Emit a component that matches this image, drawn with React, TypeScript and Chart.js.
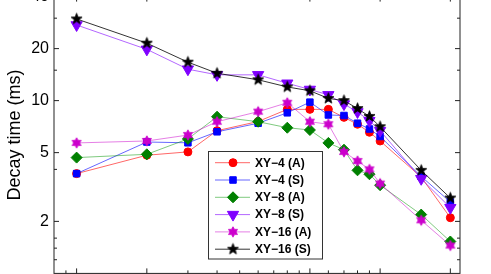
import React, { useEffect, useRef } from "react";
import { Chart, registerables } from "chart.js";
import { drawPoint } from "chart.js/helpers";

Chart.register(...registerables);

// ---- data ----
const xValues = [1, 2, 3, 4, 6, 8, 10, 12, 14, 16, 18, 20, 30, 40];
const xy4A = [3.78, 4.83, 5.05, 6.7, 7.57, 8.9, 8.9, 8.9, 8.0, 7.3, 6.56, 5.84, 3.61, 2.1];
const xy4S = [3.78, 5.76, 5.7, 6.6, 7.4, 8.5, 9.8, 8.26, 8.2, 7.4, 6.85, 6.2, 3.64, 2.59];
const xy8A = [4.68, 4.89, 6.0, 8.07, 7.55, 6.97, 6.76, 5.69, 5.2, 3.95, 3.75, 3.24, 2.19, 1.53];
const xy8S = [27.4, 19.8, 15.2, 14.1, 14.1, 12.6, 11.6, 10.8, 9.55, 8.6, 7.65, 6.7, 3.53, 2.4];
const xy16A = [5.69, 5.84, 6.32, 7.55, 8.63, 9.72, 7.55, 7.3, 5.05, 4.47, 4.0, 3.31, 2.03, 1.45];
const xy16S = [29.7, 21.5, 16.7, 14.4, 13.2, 12.0, 11.4, 10.3, 10.0, 9.0, 8.1, 7.06, 3.95, 2.73];

const seriesLabels = ["XY−4 (A)", "XY−4 (S)", "XY−8 (A)", "XY−8 (S)", "XY−16 (A)", "XY−16 (S)"];

const yTickLabels = [2, 5, 10, 20, 40];
const yMinorTicks = [1.2, 1.4, 1.6, 4, 15, 30];
const xMajorTicks = [1, 2, 10, 20, 40];
const xMinorTicks = [0.9, 3, 4, 5, 6, 7, 8, 9, 12, 14, 16, 18];

const FONT = '"Liberation Sans", Arial, Helvetica, sans-serif';

function makeStar(points: number, outer: number, inner: number, fill: string) {
  const size = Math.ceil(outer * 2 + 3);
  const c = document.createElement("canvas");
  c.width = size;
  c.height = size;
  const ctx = c.getContext("2d")!;
  const cx = size / 2,
    cy = size / 2;
  ctx.beginPath();
  for (let i = 0; i < points * 2; i++) {
    const r = i % 2 === 0 ? outer : inner;
    const a = -Math.PI / 2 + (i * Math.PI) / points;
    const px = cx + r * Math.cos(a),
      py = cy + r * Math.sin(a);
    if (i === 0) ctx.moveTo(px, py);
    else ctx.lineTo(px, py);
  }
  ctx.closePath();
  ctx.fillStyle = fill;
  ctx.fill();
  ctx.strokeStyle = fill;
  ctx.lineWidth = 0.8;
  ctx.stroke();
  return c;
}

const framePlugin = {
  id: "matlabFrame",
  beforeDatasetsDraw(chart: any) {
    const { ctx, chartArea } = chart;
    const { left, right, top, bottom } = chartArea;
    const xs = chart.scales.x;
    const ys = chart.scales.y;
    ctx.save();
    ctx.strokeStyle = "#222";
    ctx.lineWidth = 1;
    ctx.strokeRect(left, top, right - left, bottom - top);
    ctx.beginPath();
    const tick = (vals: number[], len: number) => {
      vals.forEach((v) => {
        const px = xs.getPixelForValue(v);
        ctx.moveTo(px, bottom);
        ctx.lineTo(px, bottom - len);
        ctx.moveTo(px, top);
        ctx.lineTo(px, top + len);
      });
    };
    const ytick = (vals: number[], len: number) => {
      vals.forEach((v) => {
        const py = ys.getPixelForValue(v);
        ctx.moveTo(left, py);
        ctx.lineTo(left + len, py);
        ctx.moveTo(right, py);
        ctx.lineTo(right - len, py);
      });
    };
    tick(xMajorTicks, 5);
    tick(xMinorTicks, 3);
    ytick(yTickLabels, 5);
    ytick(yMinorTicks, 3);
    ctx.stroke();
    ctx.restore();
  },
};

const legendPlugin = {
  id: "boxLegend",
  afterDraw(chart: any) {
    const { ctx } = chart;
    const offY = 30;
    const bx = 208.5,
      by = 151.5 + offY,
      bw = 114,
      bh = 107.5;
    ctx.save();
    ctx.fillStyle = "#fff";
    ctx.fillRect(bx, by, bw, bh);
    ctx.strokeStyle = "#333";
    ctx.lineWidth = 1;
    ctx.strokeRect(bx, by, bw, bh);
    chart.data.datasets.forEach((ds: any, i: number) => {
      const cy = 162.7 + offY + i * 17.3;
      ctx.strokeStyle = ds.borderColor;
      ctx.lineWidth = 1;
      ctx.beginPath();
      ctx.moveTo(215, cy);
      ctx.lineTo(250, cy);
      ctx.stroke();
      ctx.fillStyle = ds.pointBackgroundColor;
      ctx.strokeStyle = ds.pointBorderColor;
      drawPoint(ctx, {
        pointStyle: ds.pointStyle,
        rotation: ds.pointRotation || 0,
        radius: ds.pointRadius,
        borderWidth: 1,
      }, 233, cy);
      ctx.fillStyle = "#000";
      ctx.font = `bold 12px ${FONT}`;
      ctx.textBaseline = "middle";
      ctx.textAlign = "left";
      ctx.fillText(ds.label, 255, cy + 0.5);
    });
    ctx.restore();
  },
};

export default function App() {
  const ref = useRef<HTMLCanvasElement>(null);
  useEffect(() => {
    const blackStar = makeStar(5, 5.8, 2.4, "#000000");
    const hexagram = makeStar(6, 5.2, 3.0, "#cc00cc");
    const mk = (vals: number[]) => xValues.map((x, i) => ({ x, y: vals[i] }));
    const defs = [
      { vals: xy4A, line: "rgba(255,0,0,0.6)", mark: "#ff0000", style: "circle", r: 4, rot: 0 },
      { vals: xy4S, line: "rgba(0,0,255,0.6)", mark: "#0000ff", style: "rect", r: 4.6, rot: 0 },
      { vals: xy8A, line: "rgba(0,150,0,0.5)", mark: "#008000", style: "rectRot", r: 5.5, rot: 0 },
      { vals: xy8S, line: "rgba(128,0,255,0.6)", mark: "#8000ff", style: "triangle", r: 6.5, rot: 180 },
      { vals: xy16A, line: "rgba(204,0,204,0.5)", mark: "#cc00cc", style: hexagram, r: 5, rot: 0 },
      { vals: xy16S, line: "rgba(0,0,0,0.8)", mark: "#000000", style: blackStar, r: 5, rot: 0 },
    ];
    const datasets = defs.map((d, i) => ({
      label: seriesLabels[i],
      data: mk(d.vals),
      borderColor: d.line,
      borderWidth: 1,
      backgroundColor: d.mark,
      pointBackgroundColor: d.mark,
      pointBorderColor: d.mark,
      pointBorderWidth: 1,
      pointStyle: d.style as any,
      pointRotation: d.rot,
      pointRadius: d.r,
      pointHoverRadius: d.r,
      tension: 0,
      fill: false,
      order: -i,
    }));
    const chart = new Chart(ref.current!, {
      type: "line",
      data: { datasets },
      options: {
        animation: false,
        responsive: false,
        devicePixelRatio: 1,
        layout: { padding: { top: 26.6, left: 0, right: 31, bottom: 0 } },
        plugins: { legend: { display: false }, tooltip: { enabled: false } },
        scales: {
          x: {
            type: "logarithmic",
            min: 0.8,
            max: 44,
            ticks: { display: false },
            grid: { display: false, drawTicks: false },
            border: { display: false },
            afterFit: (s: any) => {
              s.height = 36.6;
            },
          },
          y: {
            type: "logarithmic",
            min: 1,
            max: 40,
            afterBuildTicks: (s: any) => {
              s.ticks = yTickLabels.map((v) => ({ value: v }));
            },
            ticks: {
              autoSkip: false,
              padding: 5,
              color: "#000",
              font: { family: FONT, size: 16 },
              callback: (v: any) => String(v),
            },
            grid: { display: false, drawTicks: false },
            border: { display: false },
            title: {
              display: true,
              text: "Decay time (ms)",
              color: "#000",
              font: { family: FONT, size: 18 },
              padding: { top: 4, bottom: 0 },
            },
            afterFit: (s: any) => {
              s.width = 54;
            },
          },
        },
      },
      plugins: [framePlugin, legendPlugin],
    } as any);
    return () => chart.destroy();
  }, []);
  return (
    <canvas
      ref={ref}
      width={491}
      height={340}
      style={{ position: "fixed", left: 0, top: -30, width: 491, height: 340, display: "block" }}
    />
  );
}
